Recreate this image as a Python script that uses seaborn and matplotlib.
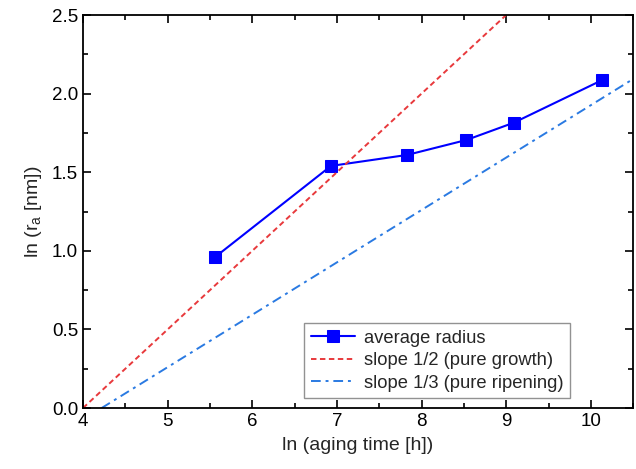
import matplotlib
matplotlib.use("Agg")
import matplotlib.pyplot as plt
import seaborn as sns
import pandas as pd
from matplotlib.ticker import MultipleLocator

# data
ln_time = [5.56, 6.93, 7.83, 8.53, 9.09, 10.13]
ln_radius = [0.96, 1.54, 1.61, 1.705, 1.815, 2.085]
growth_x = [4.0, 9.0]
growth_y = [0.0, 2.5]
ripening_x = [4.22, 10.47]
ripening_y = [0.0, 2.083]

sns.set_style("ticks")
plt.rcParams['font.family'] = ['Liberation Sans', 'DejaVu Sans']

fig = plt.figure(figsize=(6.36, 4.69), dpi=100)
ax = fig.add_axes([0.1305, 0.130, 0.865, 0.838])

df = pd.DataFrame({"x": ln_time, "y": ln_radius})
sns.lineplot(data=df, x="x", y="y", ax=ax, color=(0, 0, 1), lw=1.5,
             marker="s", markersize=9, markeredgecolor=(0, 0, 1),
             label="average radius")
sns.lineplot(x=growth_x, y=growth_y, ax=ax, color="#e8393c", lw=1.4,
             linestyle=(0, (2.8, 1.8)), label="slope 1/2 (pure growth)")
sns.lineplot(x=ripening_x, y=ripening_y, ax=ax, color="#2a7ae2", lw=1.4,
             linestyle=(0, (5, 2.5, 1.5, 2.5)), label="slope 1/3 (pure ripening)")

ax.set_xlim(4, 10.5)
ax.set_ylim(0, 2.5)
ax.xaxis.set_major_locator(MultipleLocator(1))
ax.xaxis.set_minor_locator(MultipleLocator(0.5))
ax.yaxis.set_major_locator(MultipleLocator(0.5))
ax.yaxis.set_minor_locator(MultipleLocator(0.25))
ax.yaxis.set_major_formatter(matplotlib.ticker.FormatStrFormatter('%.1f'))
ax.tick_params(which='both', direction='in', top=True, right=True, width=1.2, colors='black')
ax.tick_params(which='major', length=6, labelsize=13.5)
ax.tick_params(which='minor', length=3.5)
for s in ax.spines.values():
    s.set_linewidth(1.3)
    s.set_color('black')
ax.tick_params(axis='both', which='both', labelcolor='black')

ax.set_xlabel("ln (aging time [h])", fontsize=14, labelpad=5)
ax.set_ylabel("ln (r$_\\mathregular{a}$ [nm])", fontsize=14, labelpad=6)

leg = ax.legend(loc='lower right', bbox_to_anchor=(0.885, 0.025), fontsize=13.2,
                frameon=True, fancybox=False, edgecolor='#777777',
                handlelength=2.4, borderpad=0.35, labelspacing=0.3, handletextpad=0.5,
                borderaxespad=0)
leg.get_frame().set_linewidth(1.0)

fig.savefig("out.png", dpi=100)
